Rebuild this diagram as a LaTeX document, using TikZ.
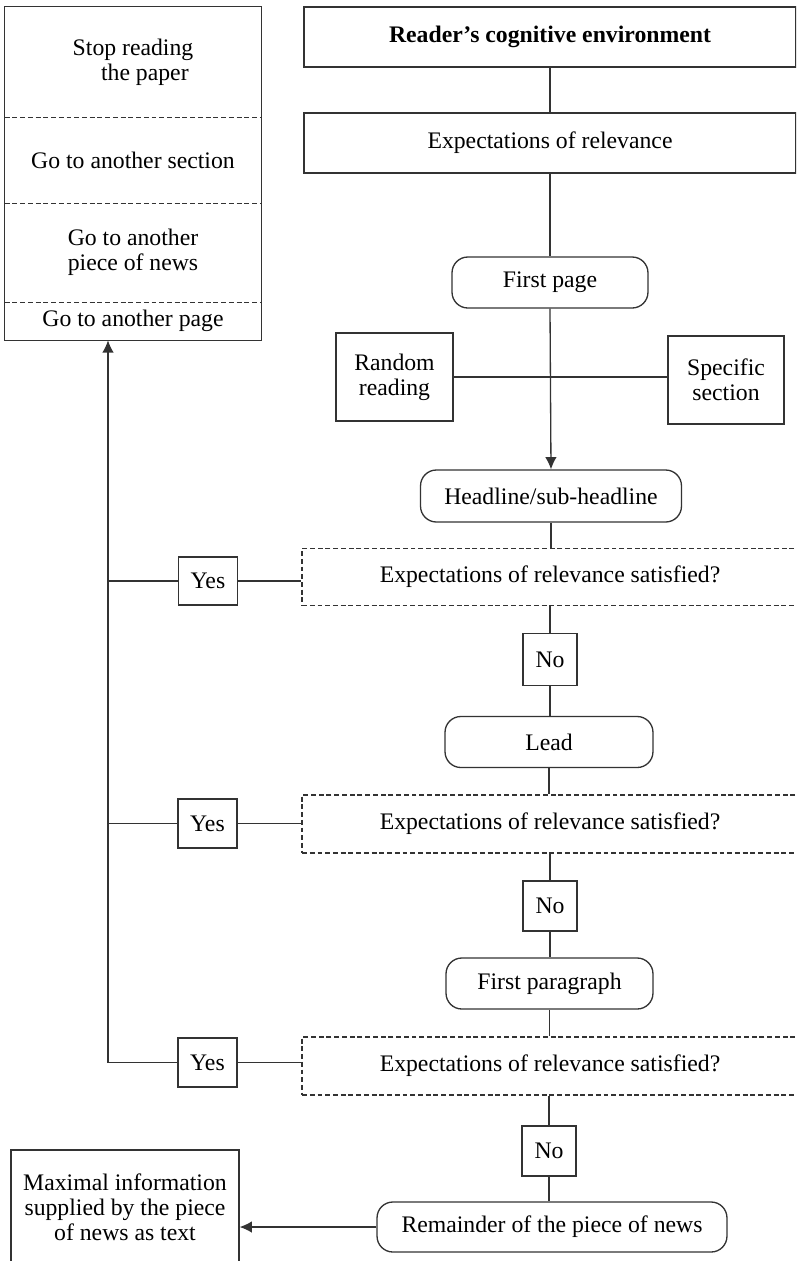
\documentclass[tikz,border=0pt]{standalone}
\usepackage{fontspec}
\setmainfont{Liberation Serif}
\usetikzlibrary{arrows.meta}

\definecolor{linegray}{HTML}{333333}
\tikzset{
  every node/.style={font=\fontsize{13.5}{14.2}\selectfont, align=center, inner sep=2pt},
  box/.style={draw=linegray, line width=0.75pt},
  roundbox/.style={box, rounded corners=9pt},
  askbox/.style={box, dash pattern=on 2.8pt off 1.6pt},
  link/.style={draw=linegray, line width=0.75pt},
  tip/.style={-{Latex[length=7pt,width=6.6pt]}},
}

\begin{document}
\begin{tikzpicture}[x=0.02cm, y=-0.02cm]
    \useasboundingbox (0,0) rectangle (796,1261);
    \clip (0,0) rectangle (796,1261);

    % exits, top left
    \node[minimum width=5.12cm, minimum height=2.2cm] (stop) at (133,62) {Stop reading\\\hspace*{1em}the paper};
    \node[minimum width=5.12cm, minimum height=1.72cm] (sect) at (133,160) {Go to another section};
    \node[minimum width=5.12cm, minimum height=1.98cm] (news) at (133,252.5) {Go to another\\piece of news};
    \node[minimum width=5.12cm, minimum height=0.76cm] (page) at (133,321) {Go to another page};
    \draw[link] (stop.north west) rectangle (page.south east);
    \draw[link, dash pattern=on 2.8pt off 1.6pt] (stop.south west) -- (stop.south east);
    \draw[link, dash pattern=on 2.8pt off 1.6pt] (sect.south west) -- (sect.south east);
    \draw[link, dash pattern=on 2.8pt off 1.6pt] (news.south west) -- (news.south east);

    % main column
    \node[box, minimum width=9.84cm, minimum height=1.2cm] (env) at (550,37) {\bfseries Reader’s cognitive environment};
    \node[box, minimum width=9.84cm, minimum height=1.2cm] (expect) at (550,143) {Expectations of relevance};
    \node[roundbox, minimum width=3.92cm, minimum height=1.02cm] (firstpage) at (550,282.5) {First page};
    \node[box, minimum width=2.34cm, minimum height=1.76cm] (random) at (394.5,377) {Random\\reading};
    \node[box, minimum width=2.32cm, minimum height=1.76cm] (specific) at (726,380) {Specific\\section};
    \node[roundbox, minimum width=5.22cm, minimum height=1.04cm] (headline) at (551,496) {Headline/sub-headline};

    \node[askbox, minimum width=9.92cm, minimum height=1.14cm] (ask1) at (550,577) {Expectations of relevance satisfied?};
    \node[box, minimum width=1.18cm, minimum height=0.96cm] (yes1) at (208,581) {Yes};
    \node[box, minimum width=1.08cm, minimum height=1.04cm] (no1) at (550,659.5) {No};
    \node[roundbox, minimum width=4.16cm, minimum height=1.02cm] (lead) at (549,742) {Lead};

    \node[askbox, minimum width=9.92cm, minimum height=1.16cm] (ask2) at (550,824) {Expectations of relevance satisfied?};
    \node[box, minimum width=1.18cm, minimum height=0.98cm] (yes2) at (207.5,823.5) {Yes};
    \node[box, minimum width=1.08cm, minimum height=1.0cm] (no2) at (550,906) {No};
    \node[roundbox, minimum width=4.14cm, minimum height=1.02cm] (firstpar) at (549.5,983.5) {First paragraph};

    \node[askbox, minimum width=9.92cm, minimum height=1.16cm] (ask3) at (550,1066) {Expectations of relevance satisfied?};
    \node[box, minimum width=1.18cm, minimum height=0.98cm] (yes3) at (207.5,1062.5) {Yes};
    \node[box, minimum width=1.08cm, minimum height=1.0cm] (no3) at (549,1151) {No};
    \node[roundbox, minimum width=7.0cm, minimum height=1.0cm] (remainder) at (552,1227) {Remainder of the piece of news};
    \node[box, minimum width=4.56cm, minimum height=2.28cm] (maxinfo) at (125,1207) {Maximal information\\supplied by the piece\\of news as text};

    % connectors
    \draw[link] (env) -- (expect);
    \draw[link] (expect) -- (firstpage);
    \draw[link, tip] (firstpage.south) -- (headline.north);
    \draw[link] (random.east) -- (random.east -| specific.west);
    \draw[link] (headline.south) -- (headline.south |- ask1.north);
    \draw[link] (ask1.south -| no1) -- (no1.north);
    \draw[link] (no1.south) -- (no1.south |- lead.north);
    \draw[link] (lead.south) -- (lead.south |- ask2.north);
    \draw[link] (ask2.south -| no2) -- (no2.north);
    \draw[link] (no2.south) -- (no2.south |- firstpar.north);
    \draw[link] (firstpar.south) -- (firstpar.south |- ask3.north);
    \draw[link] (ask3.south -| no3) -- (no3.north);
    \draw[link] (no3.south) -- (no3.south |- remainder.north);
    \draw[link, tip] (remainder.west) -- (remainder.west -| maxinfo.east);

    % yes branch back to the exits
    \coordinate (bend) at (108,1062.5);
    \draw[link] (yes1.east) -- (yes1.east -| ask1.west);
    \draw[link] (yes2.east) -- (yes2.east -| ask2.west);
    \draw[link] (yes3.east) -- (yes3.east -| ask3.west);
    \draw[link] (yes1.west) -- (yes1.west -| bend);
    \draw[link] (yes2.west) -- (yes2.west -| bend);
    \draw[link, tip] (yes3.west) -| (bend |- page.south);
\end{tikzpicture}
\end{document}
